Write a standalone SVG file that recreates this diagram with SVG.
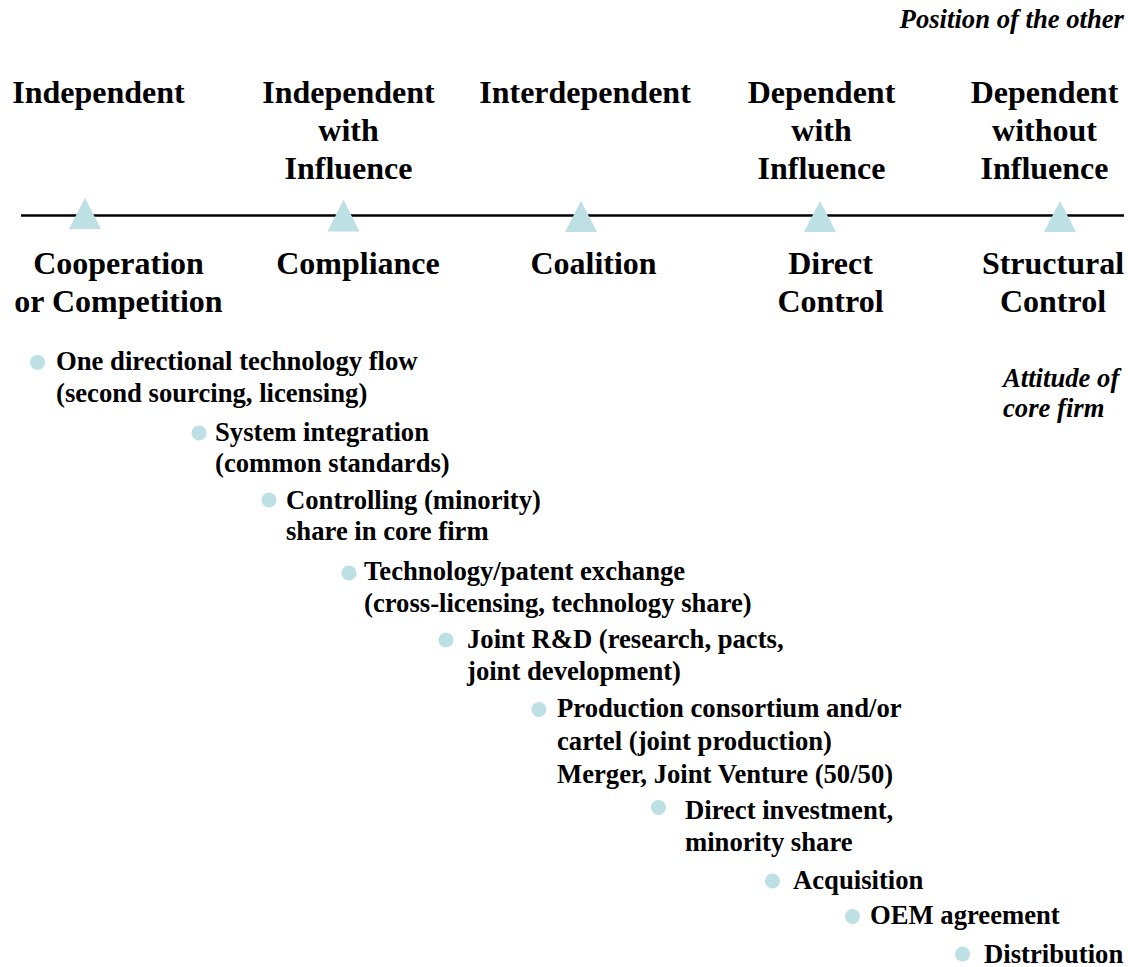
<svg xmlns="http://www.w3.org/2000/svg" width="1128" height="967" viewBox="0 0 1128 967" font-family="'Liberation Serif', 'DejaVu Serif', serif">
<style>
text{font-family:'Liberation Serif','DejaVu Serif',serif;font-weight:bold;fill:#000}
.h{font-size:32px;text-anchor:middle}
.b{font-size:26.67px}
.i{font-size:26.67px;font-style:italic}
.tri{fill:#bce0e4}
.dot{fill:#bce0e4}
</style>
<rect width="1128" height="967" fill="#fff"/>
<g id="position-label"><text class="i" x="1124" y="28" text-anchor="end">Position of the other</text></g>
<g id="attitude-label"><text class="i" x="1003" y="387">Attitude of</text><text class="i" x="1003" y="417">core firm</text></g>

<g id="head-independent"><text class="h" x="98.5" y="103">Independent</text></g>
<g id="head-independent-influence"><text class="h" x="348.5" y="103">Independent</text><text class="h" x="348.5" y="141">with</text><text class="h" x="348.5" y="179">Influence</text></g>
<g id="head-interdependent"><text class="h" x="585" y="103">Interdependent</text></g>
<g id="head-dependent-influence"><text class="h" x="821.5" y="103">Dependent</text><text class="h" x="821.5" y="141">with</text><text class="h" x="821.5" y="179">Influence</text></g>
<g id="head-dependent-without"><text class="h" x="1044.5" y="103">Dependent</text><text class="h" x="1044.5" y="141">without</text><text class="h" x="1044.5" y="179">Influence</text></g>

<g id="connectors">
<line x1="21" y1="215.5" x2="1124" y2="215.5" stroke="#000" stroke-width="2.5"/>
<polygon class="tri" points="85,198 101,229 69,229"/>
<polygon class="tri" points="343.5,200 359.5,231.5 327.5,231.5"/>
<polygon class="tri" points="581,201 597,232 565,232"/>
<polygon class="tri" points="820,201 836,232 804,232"/>
<polygon class="tri" points="1060,201 1076,232 1044,232"/>
</g>

<g id="attitude-cooperation"><text class="h" x="118.5" y="274">Cooperation</text><text class="h" x="118.5" y="312">or Competition</text></g>
<g id="attitude-compliance"><text class="h" x="358" y="274">Compliance</text></g>
<g id="attitude-coalition"><text class="h" x="593.5" y="274">Coalition</text></g>
<g id="attitude-direct"><text class="h" x="830.5" y="274">Direct</text><text class="h" x="830.5" y="312">Control</text></g>
<g id="attitude-structural"><text class="h" x="1053" y="274">Structural</text><text class="h" x="1053" y="312">Control</text></g>

<g id="item-1"><circle class="dot" cx="37.5" cy="362.5" r="7.5"/><text class="b" x="56" y="370">One directional technology flow</text><text class="b" x="56" y="402">(second sourcing, licensing)</text></g>
<g id="item-2"><circle class="dot" cx="199" cy="433" r="7.5"/><text class="b" x="215" y="441">System integration</text><text class="b" x="215" y="472">(common standards)</text></g>
<g id="item-3"><circle class="dot" cx="269" cy="500" r="7.5"/><text class="b" x="286" y="509">Controlling (minority)</text><text class="b" x="286" y="540">share in core firm</text></g>
<g id="item-4"><circle class="dot" cx="349" cy="573" r="7.5"/><text class="b" x="364" y="580">Technology/patent exchange</text><text class="b" x="364" y="612">(cross-licensing, technology share)</text></g>
<g id="item-5"><circle class="dot" cx="446" cy="640" r="7.5"/><text class="b" x="467" y="648">Joint R&amp;D (research, pacts,</text><text class="b" x="467" y="680">joint development)</text></g>
<g id="item-6"><circle class="dot" cx="539" cy="709.5" r="7.5"/><text class="b" x="557" y="717">Production consortium and/or</text><text class="b" x="557" y="750">cartel (joint production)</text><text class="b" x="557" y="783">Merger, Joint Venture (50/50)</text></g>
<g id="item-7"><circle class="dot" cx="658.5" cy="807.5" r="7.5"/><text class="b" x="685" y="819">Direct investment,</text><text class="b" x="685" y="851">minority share</text></g>
<g id="item-8"><circle class="dot" cx="772.5" cy="881" r="7.5"/><text class="b" x="793" y="889">Acquisition</text></g>
<g id="item-9"><circle class="dot" cx="852.5" cy="916.5" r="7.5"/><text class="b" x="870" y="924">OEM agreement</text></g>
<g id="item-10"><circle class="dot" cx="962.5" cy="954" r="7.5"/><text class="b" x="984" y="963">Distribution</text></g>
</svg>
